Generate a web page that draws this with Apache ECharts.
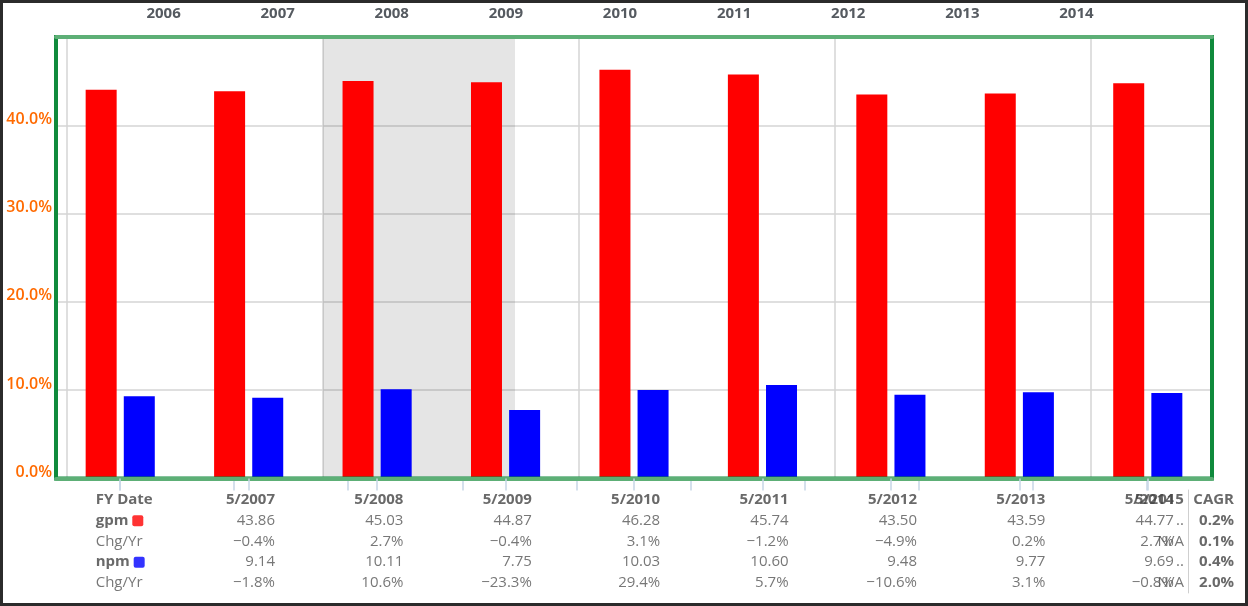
<!DOCTYPE html>
<html><head><meta charset="utf-8">
<script src="https://cdn.jsdelivr.net/npm/echarts@6/dist/echarts.min.js"></script>
<style>
html,body{margin:0;padding:0;background:#fff;}
#c{width:1248px;height:606px;}
#frame{position:absolute;left:0;top:0;width:1248px;height:606px;box-sizing:border-box;border:3px solid #2b2b2b;pointer-events:none;}
</style>
</head><body><div id="c"></div><div id="frame"></div>
<script>
// ---- data ----
const categories = ['5/2006','5/2007','5/2008','5/2009','5/2010','5/2011','5/2012','5/2013','5/2014'];
const yearLabels = ['2006','2007','2008','2009','2010','2011','2012','2013','2014'];
const gpm = [44.04, 43.86, 45.03, 44.87, 46.28, 45.74, 43.50, 43.59, 44.77];
const npm = [9.31, 9.14, 10.11, 7.75, 10.03, 10.60, 9.48, 9.77, 9.69];
const tableDates = ['5/2007','5/2008','5/2009','5/2010','5/2011','5/2012','5/2013','5/2014'];
const gpmText = ['43.86','45.03','44.87','46.28','45.74','43.50','43.59','44.77'];
const gpmChg = ['−0.4%','2.7%','−0.4%','3.1%','−1.2%','−4.9%','0.2%','2.7%'];
const npmText = ['9.14','10.11','7.75','10.03','10.60','9.48','9.77','9.69'];
const npmChg = ['−1.8%','10.6%','−23.3%','29.4%','5.7%','−10.6%','3.1%','−0.8%'];
const ttmColumn = ['5/2015','..','N/A','..','N/A'];
const rowLabels = ['FY Date','gpm','Chg/Yr','npm','Chg/Yr'];
const cagrColumn = ['CAGR','0.2%','0.1%','0.4%','2.0%'];
const shadeRange = [2, 3.5];

// ---- layout constants ----
const FONT = 'Open Sans';
const FS = 15;
const CAGR_X = (1234 - 56) / 128.4 - 0.5;
const SEP_X = (1188 - 56) / 128.4 - 0.5;

function textSeries(items, opts) {
  return {
    type: 'scatter', xAxisIndex: 4, yAxisIndex: 3, symbolSize: 1, silent: true,
    itemStyle: {color: 'rgba(0,0,0,0)'}, z: 5,
    data: items,
    label: Object.assign({
      show: true, position: 'inside', align: 'right', verticalAlign: 'middle',
      formatter: p => p.value[2], fontFamily: FONT, fontSize: FS, color: '#555'
    }, opts)
  };
}

const rows = [tableDates, gpmText, gpmChg, npmText, npmChg];
const series = [];

series.push({
  name: 'gpm', type: 'bar', data: gpm, xAxisIndex: 0, yAxisIndex: 0,
  barWidth: 31, barGap: '23%', itemStyle: {color: '#ff0000'}, z: 2
});
series.push({
  name: 'npm', type: 'bar', data: npm, xAxisIndex: 0, yAxisIndex: 0,
  barWidth: 31, barGap: '23%', itemStyle: {color: '#0000ff'}, z: 2
});
// shading
series.push({
  type: 'line', xAxisIndex: 3, yAxisIndex: 2, data: [[shadeRange[0], 0]], symbol: 'none',
  lineStyle: {opacity: 0}, silent: true, z: 1,
  markArea: {silent: true, itemStyle: {color: 'rgba(0,0,0,0.1)'},
    data: [[{xAxis: shadeRange[0]}, {xAxis: shadeRange[1]}]]}
});
// separator in table
series.push({
  type: 'line', xAxisIndex: 4, yAxisIndex: 3, data: [[SEP_X, 0]], symbol: 'none',
  lineStyle: {opacity: 0}, silent: true,
  markLine: {silent: true, symbol: ['none','none'], label: {show: false},
    lineStyle: {color: '#cfcfcf', type: 'solid', width: 1},
    data: [{xAxis: SEP_X}]}
});
// table rows
rows.forEach((arr, r) => {
  const bold = (r === 0);
  series.push(textSeries(arr.map((t, i) => [i + 1, r, t]), {
    offset: [26.4, 0], fontWeight: bold ? 'bold' : 'normal', color: bold ? '#444' : '#555'
  }));
});
// TTM overlapping column
series.push(textSeries(ttmColumn.map((t, r) => [8, r, t]), {
  offset: [36.5, 0], fontWeight: 'normal', color: '#555',
  formatter: p => p.dataIndex === 0 ? '{b|' + p.value[2] + '}' : p.value[2],
  rich: {b: {fontWeight: 'bold', color: '#444', fontSize: FS, fontFamily: FONT}}
}));
// row labels
series.push(textSeries(rowLabels.map((t, r) => [0, r, t]), {
  align: 'left', offset: [-24.5, 0],
  formatter: p => {
    const i = p.dataIndex;
    if (i === 0) return '{h|' + p.value[2] + '}';
    if (i === 1) return '{h|' + p.value[2] + '} {r|}';
    if (i === 3) return '{h|' + p.value[2] + '} {b|}';
    return '{n|' + p.value[2] + '}';
  },
  rich: {
    h: {fontWeight: 'bold', color: '#444', fontSize: FS, fontFamily: FONT},
    n: {fontWeight: 'normal', color: '#555', fontSize: FS, fontFamily: FONT},
    r: {backgroundColor: '#ff0000', width: 11, height: 11, borderRadius: 2},
    b: {backgroundColor: '#0000ff', width: 11, height: 11, borderRadius: 2}
  }
}));
// CAGR column
series.push(textSeries(cagrColumn.map((t, r) => [CAGR_X, r, t]), {
  offset: [0, 0], fontWeight: 'bold', color: '#444'
}));

const option = {
  animation: false,
  backgroundColor: '#ffffff',
  grid: [
    {left: 56, top: 37, right: 36, bottom: 127.5, show: true, borderColor: '#0f8a3c', borderWidth: 4, backgroundColor: 'transparent', z: 4},
    {left: 106.5, width: 1027, top: 37, height: 10},
    {left: 67, right: 36, top: 37, bottom: 127.5},
    {left: 56, right: 3, top: 489.6, height: 103.75},
    {left: 120, width: 1027, top: 470, bottom: 127.5}
  ],
  xAxis: [
    {gridIndex: 0, type: 'category', data: categories, position: 'bottom', z: 5,
      axisLine: {show: true, lineStyle: {color: '#5daf76', width: 4}},
      axisTick: {show: true, alignWithLabel: true, length: 12, lineStyle: {color: '#c6d6e6', width: 1.5}},
      axisLabel: {show: false}, splitLine: {show: false}},
    {gridIndex: 0, type: 'category', data: categories, position: 'top', z: 5,
      axisLine: {show: true, lineStyle: {color: '#5daf76', width: 4}},
      axisTick: {show: false}, axisLabel: {show: false}, splitLine: {show: false}},
    {gridIndex: 1, type: 'category', data: yearLabels, position: 'top',
      axisLine: {show: false}, axisTick: {show: false}, splitLine: {show: false},
      axisLabel: {show: true, margin: 16, fontFamily: FONT, fontSize: 15, fontWeight: 'bold', color: '#555a60'}},
    {gridIndex: 2, type: 'value', min: 0, max: 1145 / 128,
      axisLine: {show: false}, axisTick: {show: false}, axisLabel: {show: false},
      splitLine: {show: true, showMaxLine: false, lineStyle: {color: '#d4d4d4', width: 1.5}}},
    {gridIndex: 3, type: 'value', min: -0.5, max: 1189 / 128.4 - 0.5, show: false},
    {gridIndex: 4, type: 'value', min: 0, max: 9, interval: 1, position: 'bottom',
      axisLine: {show: false}, axisLabel: {show: false}, splitLine: {show: false},
      axisTick: {show: true, length: 12, lineStyle: {color: '#c6d6e6', width: 1.5}}}
  ],
  yAxis: [
    {gridIndex: 0, type: 'value', min: 0, max: 50, interval: 10,
      axisLine: {show: false}, axisTick: {show: false},
      axisLabel: {show: true, formatter: v => v === 50 ? '' : v.toFixed(1) + '%', margin: 4,
        color: '#ff6a00', fontFamily: FONT, fontSize: 16, fontWeight: 600, verticalAlign: 'bottom', lineHeight: 12},
      splitLine: {show: true, lineStyle: {color: '#d4d4d4', width: 1.5}}},
    {gridIndex: 1, type: 'value', show: false},
    {gridIndex: 2, type: 'value', min: 0, max: 1, show: false},
    {gridIndex: 3, type: 'value', min: -0.5, max: 4.5, inverse: true, show: false},
    {gridIndex: 4, type: 'value', show: false}
  ],
  series: series
};

const chart = echarts.init(document.getElementById('c'));
chart.setOption(option);
</script>
</body></html>
